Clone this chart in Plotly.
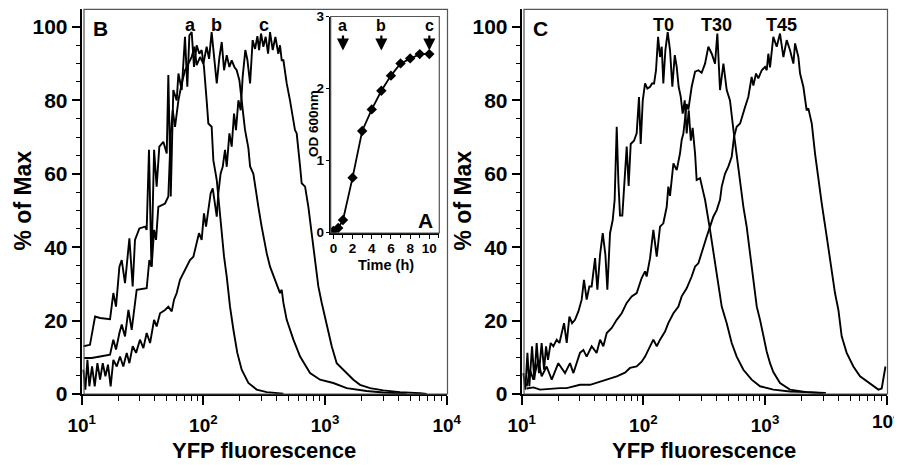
import numpy as np
import plotly.graph_objects as go

OFF = 8  # page body margin of the browser
W, H = 902 - OFF, 465 - OFF

# ---------------- DATA ----------------
# Panel B histograms: (log10 YFP fluorescence, % of Max)
panel_b_a = [(1.014,13.0),(1.068,13.4),(1.110,21.1),(1.151,20.7),(1.233,20.4),(1.260,27.5),(1.282,23.8),
             (1.310,34.7),(1.329,36.5),(1.356,30.2),(1.392,42.4),(1.419,29.3),(1.438,42.0),(1.474,45.1),
             (1.521,45.6),(1.534,44.7),(1.553,66.5),(1.573,34.7),(1.595,66.5),(1.616,56.5),(1.638,67.4),
             (1.671,68.7),(1.699,65.5),(1.712,86.9),(1.732,53.8),(1.753,82.8),(1.781,80.0),(1.795,87.3),
             (1.822,82.8),(1.849,97.3),(1.868,83.7),(1.885,97.7),(1.904,98.6),(1.923,89.1),(1.945,95.0),
             (1.967,92.7),(1.986,93.7),(2.005,89.1),(2.027,80.0),(2.041,73.7),(2.068,72.8),(2.082,63.7),
             (2.110,58.3),(2.132,50.1),(2.151,43.8),(2.170,37.4),(2.192,32.0),(2.219,23.8),(2.247,17.5),
             (2.279,11.2),(2.315,6.6),(2.370,3.0),(2.438,1.2),(2.521,0.5),(2.658,0.1)]

panel_b_b = [(1.019,9.8),(1.082,9.8),(1.151,10.2),(1.233,10.7),(1.260,14.8),(1.282,12.1),(1.310,16.6),
             (1.329,18.9),(1.356,15.7),(1.384,22.9),(1.411,17.5),(1.452,28.4),(1.534,28.8),(1.556,36.5),
             (1.575,34.7),(1.595,44.7),(1.611,42.0),(1.630,51.0),(1.685,51.9),(1.712,53.8),(1.732,71.0),
             (1.748,77.3),(1.767,72.8),(1.795,80.0),(1.822,84.6),(1.849,88.2),(1.877,90.0),(1.904,91.8),
             (1.926,94.6),(1.945,89.6),(1.973,91.8),(2.000,90.0),(2.027,94.6),(2.047,91.3),(2.068,98.6),
             (2.090,90.9),(2.110,84.6),(2.132,91.8),(2.151,95.9),(2.170,88.2),(2.192,92.3),(2.214,89.1),
             (2.233,90.9),(2.255,89.1),(2.274,88.2),(2.296,85.5),(2.315,80.0),(2.342,72.0),(2.370,67.0),
             (2.384,62.0),(2.411,60.0),(2.425,56.5),(2.452,51.0),(2.479,45.6),(2.521,38.3),(2.548,34.7),
             (2.589,31.0),(2.630,27.5),(2.644,28.4),(2.658,24.8),(2.685,20.2),(2.740,14.8),(2.795,10.2),
             (2.877,5.7),(2.959,3.9),(3.068,3.0),(3.178,1.6),(3.342,0.8),(3.479,0.4),(3.671,0.1)]

panel_b_c = [(1.014,6.6),(1.030,1.2),(1.047,9.3),(1.063,2.1),(1.085,7.5),(1.107,2.1),(1.129,8.4),
             (1.151,3.9),(1.173,8.4),(1.195,4.8),(1.216,8.0),(1.238,2.1),(1.260,9.3),(1.288,7.5),
             (1.315,10.2),(1.342,7.5),(1.370,11.2),(1.392,8.4),(1.419,13.0),(1.447,11.2),(1.479,14.8),
             (1.507,12.5),(1.534,16.6),(1.562,13.9),(1.595,20.2),(1.616,18.4),(1.644,22.0),(1.685,22.9),
             (1.712,23.8),(1.740,22.5),(1.759,25.7),(1.781,27.5),(1.808,31.1),(1.836,32.9),(1.863,34.7),
             (1.890,36.5),(1.918,37.4),(1.945,41.1),(1.964,43.8),(1.986,42.0),(2.005,49.2),(2.022,45.6),
             (2.041,51.0),(2.060,54.7),(2.077,56.0),(2.096,51.0),(2.110,48.3),(2.123,54.7),(2.142,60.1),
             (2.159,61.9),(2.178,66.5),(2.192,61.9),(2.214,71.0),(2.233,67.4),(2.252,76.4),(2.268,71.9),
             (2.288,80.0),(2.307,77.3),(2.323,86.4),(2.345,93.7),(2.362,91.0),(2.384,84.6),(2.405,96.4),
             (2.425,94.0),(2.444,97.5),(2.458,93.7),(2.474,98.2),(2.493,94.6),(2.512,97.3),(2.532,92.7),
             (2.548,98.6),(2.570,93.7),(2.592,97.3),(2.616,92.7),(2.630,95.0),(2.644,90.9),(2.658,90.9),
             (2.685,84.6),(2.712,80.0),(2.753,71.9),(2.767,71.0),(2.795,62.0),(2.808,57.4),(2.836,56.5),
             (2.863,51.0),(2.890,43.8),(2.918,36.5),(2.945,29.3),(2.973,24.8),(2.986,23.0),(3.014,18.4),
             (3.055,13.0),(3.096,8.4),(3.178,5.7),(3.233,3.9),(3.288,2.5),(3.370,1.6),(3.479,1.0),
             (3.616,0.5),(3.781,0.2),(3.836,0.0)]

# Panel C histograms
panel_c_t0 = [(1.014,5.7),(1.030,1.2),(1.047,11.2),(1.063,2.1),(1.085,13.0),(1.104,3.9),(1.123,13.9),
              (1.142,5.7),(1.164,13.9),(1.184,6.6),(1.200,13.0),(1.216,9.3),(1.238,13.9),(1.260,13.0),
              (1.288,14.8),(1.310,13.9),(1.329,16.6),(1.348,19.3),(1.370,13.9),(1.392,21.1),(1.414,19.3),
              (1.438,20.2),(1.466,22.5),(1.493,25.7),(1.512,31.1),(1.534,25.7),(1.556,29.3),(1.575,29.3),
              (1.603,37.0),(1.622,28.4),(1.644,37.9),(1.666,43.8),(1.688,37.9),(1.704,28.4),(1.726,43.8),
              (1.748,47.4),(1.764,52.9),(1.781,72.8),(1.795,57.6),(1.808,48.6),(1.827,48.6),(1.841,56.7),
              (1.863,67.4),(1.879,56.7),(1.896,68.1),(1.923,69.0),(1.945,71.0),(1.964,80.9),(1.978,68.1),
              (1.995,80.0),(2.014,84.6),(2.033,83.2),(2.055,83.7),(2.071,84.6),(2.088,84.6),(2.104,88.2),
              (2.121,97.3),(2.137,91.8),(2.151,94.6),(2.164,84.6),(2.181,93.7),(2.200,98.6),(2.219,93.7),
              (2.238,83.7),(2.258,92.3),(2.274,89.1),(2.290,83.7),(2.307,81.0),(2.323,76.4),(2.340,80.0),
              (2.356,71.0),(2.373,77.3),(2.390,69.0),(2.405,72.5),(2.425,65.5),(2.438,58.3),(2.466,58.8),
              (2.488,55.6),(2.507,52.9),(2.548,44.7),(2.589,35.6),(2.616,31.0),(2.644,23.8),(2.685,19.3),
              (2.726,13.9),(2.767,10.2),(2.822,6.6),(2.890,3.9),(2.959,2.1),(3.068,1.2),(3.205,0.7),
              (3.342,0.5),(3.500,0.3)]

panel_c_t30 = [(1.041,2.1),(1.068,6.6),(1.096,3.9),(1.137,9.3),(1.164,4.8),(1.205,7.5),(1.247,3.9),
               (1.301,8.4),(1.356,5.7),(1.397,8.4),(1.425,5.7),(1.479,11.2),(1.507,12.0),(1.534,10.2),
               (1.575,13.0),(1.616,11.2),(1.644,14.8),(1.671,13.0),(1.699,16.6),(1.740,18.0),(1.781,20.2),
               (1.822,22.0),(1.863,24.8),(1.904,26.6),(1.945,27.5),(1.986,31.6),(2.014,33.4),(2.027,32.0),
               (2.055,37.0),(2.082,44.7),(2.110,37.4),(2.137,45.6),(2.164,46.5),(2.192,51.0),(2.205,56.5),
               (2.219,54.0),(2.247,62.8),(2.274,61.0),(2.301,65.5),(2.315,69.2),(2.329,71.0),(2.356,79.0),
               (2.370,77.5),(2.397,83.7),(2.425,87.8),(2.452,88.2),(2.479,87.5),(2.507,90.0),(2.534,94.6),
               (2.562,92.7),(2.589,90.0),(2.608,98.2),(2.630,82.8),(2.658,90.0),(2.685,82.8),(2.712,80.0),
               (2.740,72.0),(2.767,64.6),(2.795,58.3),(2.822,51.0),(2.849,45.6),(2.877,38.3),(2.904,31.0),
               (2.932,23.8),(2.959,20.2),(2.986,15.7),(3.014,11.5),(3.041,8.4),(3.068,6.0),(3.123,3.0),
               (3.205,1.2),(3.342,0.5),(3.479,0.2)]

panel_c_t45 = [(1.041,1.5),(1.096,1.8),(1.151,1.2),(1.233,1.5),(1.315,1.6),(1.370,1.6),(1.479,2.5),
               (1.562,2.5),(1.644,3.4),(1.699,3.9),(1.781,4.8),(1.849,5.8),(1.890,7.1),(1.945,7.5),
               (1.986,8.8),(2.014,10.2),(2.082,14.8),(2.110,13.0),(2.137,14.8),(2.178,17.0),(2.205,19.3),
               (2.247,22.0),(2.288,23.8),(2.315,26.6),(2.356,28.8),(2.397,32.0),(2.425,34.7),(2.452,35.6),
               (2.493,40.2),(2.521,42.9),(2.548,45.6),(2.575,48.3),(2.603,50.1),(2.630,52.9),(2.644,56.5),
               (2.671,60.0),(2.699,62.0),(2.726,64.6),(2.745,70.0),(2.767,72.8),(2.795,73.7),(2.816,76.4),
               (2.836,78.2),(2.863,81.0),(2.890,86.4),(2.904,84.0),(2.926,87.3),(2.945,86.0),(2.973,88.2),
               (3.000,89.1),(3.014,88.2),(3.027,92.7),(3.041,89.0),(3.068,97.3),(3.096,94.6),(3.123,98.2),
               (3.151,91.8),(3.178,96.4),(3.205,93.7),(3.233,90.0),(3.247,95.5),(3.274,91.8),(3.288,87.3),
               (3.315,83.7),(3.342,77.3),(3.356,77.8),(3.384,73.7),(3.411,65.5),(3.438,58.3),(3.466,51.9),
               (3.507,42.9),(3.534,36.5),(3.575,27.5),(3.603,22.9),(3.630,15.7),(3.671,11.2),(3.726,7.5),
               (3.781,4.8),(3.836,3.4),(3.890,2.1),(3.932,1.2),(3.959,1.5),(3.990,7.5)]

# Inset A: growth curve
time_h = [0, 0.5, 1, 2, 3, 4, 5, 6, 7, 8, 9, 10]
od600 = [0.02, 0.06, 0.17, 0.76, 1.41, 1.71, 1.97, 2.18, 2.35, 2.42, 2.48, 2.48]
arrow_times = [1, 5, 10]
arrow_labels = ["a", "b", "c"]

b_labels = ["a", "b", "c"]
c_labels = ["T0", "T30", "T45"]
x_tickvals = [10, 100, 1000, 10000]
x_ticktext = ["10<sup>1</sup>", "10<sup>2</sup>", "10<sup>3</sup>", "10<sup>4</sup>"]
y_tickvals = [0, 20, 40, 60, 80, 100]

# ---------------- FIGURE ----------------
FONT = "Liberation Sans, Arial, sans-serif"
fig = go.Figure()

def add_curve(pts, xa, ya):
    lx = np.array([p[0] for p in pts])
    yv = [p[1] for p in pts]
    fig.add_trace(go.Scatter(x=10 ** lx, y=yv, mode="lines",
                             line=dict(color="black", width=1.9),
                             xaxis=xa, yaxis=ya, showlegend=False, hoverinfo="skip"))

for c in (panel_b_a, panel_b_b, panel_b_c):
    add_curve(c, "x", "y")
for c in (panel_c_t0, panel_c_t30, panel_c_t45):
    add_curve(c, "x2", "y2")

fig.add_trace(go.Scatter(x=time_h, y=od600, mode="lines+markers",
                         line=dict(color="black", width=1.8),
                         marker=dict(symbol="diamond", size=8, color="black"),
                         xaxis="x3", yaxis="y3", showlegend=False, hoverinfo="skip"))

def px(x):
    return (x - OFF) / W

def py(y):
    return 1 - (y - OFF) / H

bold = dict(family=FONT, color="black", weight="bold")

def main_x(dom, ticktext):
    return dict(type="log", range=[1, 4], domain=dom, automargin=False,
                showline=True, linewidth=2, linecolor="black",
                ticks="outside", ticklen=9, tickwidth=1.5, tickcolor="black",
                tickmode="array", tickvals=x_tickvals, ticktext=ticktext,
                tickfont=dict(size=19, **bold), ticklabelstandoff=4, ticklabeloverflow="allow",
                minor=dict(ticks="outside", ticklen=5, tickwidth=1.2, tickcolor="black", dtick="D1"),
                showgrid=False, zeroline=False, fixedrange=True)

def main_y(dom):
    return dict(range=[0, 104.8], domain=dom, automargin=False,
                showline=True, linewidth=2, linecolor="black",
                ticks="outside", ticklen=8, tickwidth=1.5, tickcolor="black",
                tickmode="array", tickvals=y_tickvals,
                tickfont=dict(size=21, **bold),
                minor=dict(ticks="outside", ticklen=4, tickwidth=1.2, tickcolor="black", dtick=5, tick0=0),
                showgrid=False, zeroline=False, fixedrange=True)

ydom = [py(394), py(9.3)]
xa1 = main_x([px(81.7), px(446.7)], x_ticktext); xa1["anchor"] = "y"
ya1 = main_y(ydom); ya1["anchor"] = "x"
# last label of panel C is drawn as an annotation (it sits on the page edge)
xa2 = main_x([px(521.7), px(886.7)], x_ticktext[:-1] + [""]); xa2["anchor"] = "y2"
ya2 = main_y(ydom); ya2["anchor"] = "x2"

xa3 = dict(range=[-0.28, 11.04], domain=[px(330.7), px(439.3)], anchor="y3", automargin=False,
           showline=True, linewidth=1.8, linecolor="black",
           ticks="outside", ticklen=4, tickwidth=1.3, tickcolor="black",
           tickmode="array", tickvals=[0, 2, 4, 6, 8, 10],
           tickfont=dict(size=13.5, **bold), ticklabelstandoff=-2,
           minor=dict(ticks="outside", ticklen=3, tickwidth=1, tickcolor="black", dtick=1, tick0=0),
           showgrid=False, zeroline=False, fixedrange=True)
ya3 = dict(range=[-0.01, 3.003], domain=[py(233), py(16.5)], anchor="x3", automargin=False,
           showline=True, linewidth=1.8, linecolor="black",
           ticks="outside", ticklen=3, tickwidth=1.3, tickcolor="black",
           tickmode="array", tickvals=[0, 1, 2, 3],
           tickfont=dict(size=13.5, **bold), ticklabelstandoff=-1,
           showgrid=False, zeroline=False, fixedrange=True)

fig.update_layout(width=W, height=H, margin=dict(l=0, r=0, t=0, b=0, autoexpand=False),
                  paper_bgcolor="white", plot_bgcolor="white",
                  xaxis=xa1, yaxis=ya1, xaxis2=xa2, yaxis2=ya2, xaxis3=xa3, yaxis3=ya3,
                  showlegend=False)

# frames
frame = dict(color="#555555", width=1.2)
fig.add_shape(type="rect", xref="paper", yref="paper", x0=px(84), x1=px(447.5),
              y0=py(394), y1=py(9.3), line=frame, layer="above")
fig.add_shape(type="rect", xref="paper", yref="paper", x0=px(524), x1=px(887.5),
              y0=py(394), y1=py(9.3), line=frame, layer="above")
fig.add_shape(type="rect", xref="paper", yref="paper", x0=px(330.7), x1=px(439.3),
              y0=py(233), y1=py(16.5), line=frame, layer="above")

def ann(text, x, y, size, angle=0, **kw):
    fig.add_annotation(text=text, x=px(x), y=py(y), xref="paper", yref="paper",
                       showarrow=False, textangle=angle, font=dict(size=size, **bold),
                       xanchor="center", yanchor="middle", **kw)

# axis titles
ann("% of Max", 22.5, 201, 23, angle=-90)
ann("% of Max", 462.5, 201, 23, angle=-90)
ann("YFP fluorescence", 264, 450, 22)
ann("YFP fluorescence", 704, 450, 22)
ann("OD 600nm", 314, 124, 13.5, angle=-90)
ann("Time (h)", 386, 265, 14.5)
ann(x_ticktext[-1], 886.7, 420, 19)

# panel letters
ann("B", 100, 28, 21)
ann("C", 540, 28, 21)
ann("A", 425.5, 220, 21)

# curve labels (positions in log10 units / %)
for lab, lx in zip(b_labels, [1.898, 2.104, 2.498]):
    fig.add_annotation(text=lab, x=lx, y=100.6, xref="x", yref="y", showarrow=False,
                       font=dict(size=18, **bold), yanchor="middle")
for lab, lx in zip(c_labels, [2.169, 2.604, 3.136]):
    fig.add_annotation(text=lab, x=lx, y=100.6, xref="x2", yref="y2", showarrow=False,
                       font=dict(size=18, **bold), yanchor="middle")

# inset arrows
for t, lab in zip(arrow_times, arrow_labels):
    fig.add_annotation(text=lab, x=t, y=2.53, xref="x3", yref="y3", showarrow=True,
                       arrowhead=2, arrowsize=1.1, arrowwidth=2.2, arrowcolor="black",
                       ax=0, ay=-25, font=dict(size=16, **bold))

fig.write_html("out.html")
